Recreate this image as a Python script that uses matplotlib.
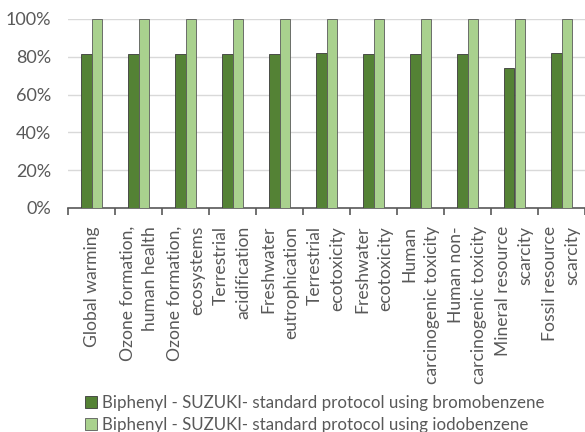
import numpy as np
import matplotlib.pyplot as plt
from matplotlib.patches import Patch
from matplotlib.ticker import FixedLocator, PercentFormatter

categories = ["Global warming", "Ozone formation,\nhuman health", "Ozone formation,\necosystems",
              "Terrestrial\nacidification", "Freshwater\neutrophication", "Terrestrial\necotoxicity",
              "Freshwater\necotoxicity", "Human\ncarcinogenic toxicity", "Human non-\ncarcinogenic toxicity",
              "Mineral resource\nscarcity", "Fossil resource\nscarcity"]
bromo = [81.5, 81.5, 81.5, 81.6, 81.4, 81.8, 81.5, 81.5, 81.6, 74.2, 81.8]
iodo = [100, 100, 100, 100, 100, 100, 100, 100, 100, 100, 100]
series_names = ["Biphenyl - SUZUKI- standard protocol using bromobenzene",
                "Biphenyl - SUZUKI- standard protocol using iodobenzene"]

DARK = "#548235"
LIGHT = "#a9d18e"
TXT = "#595959"
FS = 12.6

plt.rcParams["font.family"] = ["Lato", "DejaVu Sans"]

fig = plt.figure(figsize=(5.85, 4.32), dpi=100)
ax = fig.add_axes([68 / 585, 1 - 208 / 432, 1 - 68 / 585, (208 - 19) / 432])

x = np.arange(len(categories))
w = 0.234
ax.bar(x - w / 2, bromo, w, color=DARK, edgecolor="#3a3a3a", linewidth=0.6, zorder=3)
ax.bar(x + w / 2, iodo, w, color=LIGHT, edgecolor="#5a5a5a", linewidth=0.6, zorder=3)

ax.set_xlim(-0.5, len(categories) - 0.5)
ax.set_ylim(0, 100)
ax.set_yticks(np.arange(0, 101, 20))
ax.yaxis.set_major_formatter(PercentFormatter(decimals=0))
ax.grid(axis="y", color="#d9d9d9", linewidth=1, zorder=0)

ax.set_xticks(x)
ax.set_xticklabels(categories, rotation=90, multialignment="right", fontsize=FS,
                   color=TXT, linespacing=1.5)
ax.xaxis.set_minor_locator(FixedLocator(np.arange(-0.5, len(categories), 1)))
ax.tick_params(axis="x", which="major", length=0, pad=13)
ax.tick_params(axis="x", which="minor", length=5, width=1.2, color="#595959")
ax.tick_params(axis="y", length=0, labelsize=FS + 0.4, labelcolor=TXT, pad=12)

for s in ["top", "right", "left"]:
    ax.spines[s].set_visible(False)
ax.spines["bottom"].set_color("#595959")
ax.spines["bottom"].set_linewidth(1.2)

handles = [Patch(facecolor=DARK, edgecolor="#3a3a3a", linewidth=0.6),
           Patch(facecolor=LIGHT, edgecolor="#5a5a5a", linewidth=0.6)]
fig.legend(handles, series_names, loc="upper left", bbox_to_anchor=(78 / 585, 1 - 388 / 432),
           frameon=False, fontsize=12.2, labelcolor=TXT, handlelength=0.75, handleheight=0.75,
           handletextpad=0.25, labelspacing=0.35, borderaxespad=0)

fig.savefig("out.png", dpi=100)
